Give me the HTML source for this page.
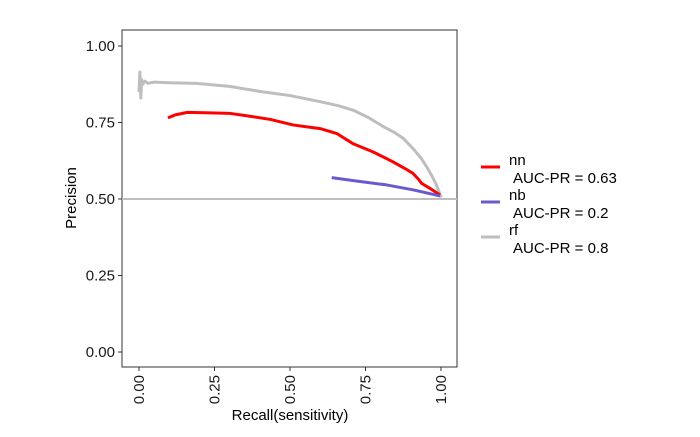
<!DOCTYPE html>
<html><head><meta charset="utf-8"><style>
body{margin:0;background:#fff;}
svg text{font-family:"Liberation Sans",Arial,sans-serif;}
</style></head><body>
<svg id="chart" width="700" height="432" xmlns="http://www.w3.org/2000/svg">
<rect x="0" y="0" width="700" height="432" fill="#fff"/>
<rect x="122" y="30" width="335" height="337" fill="none" stroke="#333" stroke-width="1"/>
<g id="axes"></g>
<g id="series"></g>
<g id="legend"></g>
</svg>
<script>
const xTicks=[0,0.25,0.5,0.75,1];
const xTickLabels=["0.00","0.25","0.50","0.75","1.00"];
const yTicks=[0,0.25,0.5,0.75,1];
const yTickLabels=["0.00","0.25","0.50","0.75","1.00"];
const seriesNames=["nn","nb","rf"];
const seriesLabels=["AUC-PR = 0.63","AUC-PR = 0.2","AUC-PR = 0.8"];
const seriesColors=["#ff0000","#6a5acd","#bebebe"];
const baseline=0.5;
const nnRecall=[0.096,0.12,0.16,0.22,0.30,0.37,0.435,0.51,0.60,0.655,0.71,0.775,0.84,0.88,0.907,0.925,0.936,0.963,0.997];
const nnPrecision=[0.765,0.775,0.783,0.782,0.78,0.77,0.76,0.742,0.73,0.714,0.68,0.654,0.622,0.600,0.584,0.565,0.551,0.535,0.513];
const nbRecall=[0.638,0.71,0.82,0.907,0.997];
const nbPrecision=[0.57,0.56,0.546,0.53,0.51];
const rfRecall=[0.0,0.003,0.006,0.009,0.012,0.02,0.03,0.05,0.1,0.19,0.3,0.41,0.5,0.6,0.66,0.71,0.76,0.81,0.845,0.875,0.91,0.935,0.952,0.97,0.983,0.993,1.0];
const rfPrecision=[0.85,0.915,0.83,0.89,0.875,0.885,0.878,0.882,0.88,0.878,0.868,0.85,0.838,0.818,0.805,0.79,0.766,0.736,0.718,0.698,0.662,0.632,0.606,0.575,0.55,0.525,0.505];
const NS="http://www.w3.org/2000/svg";
const xs=v=>139+v*302, ys=v=>352-v*306;
function mk(tag,attrs,parent){const e=document.createElementNS(NS,tag);for(const k in attrs)e.setAttribute(k,attrs[k]);parent.appendChild(e);return e;}
const axes=document.getElementById('axes'),ser=document.getElementById('series'),leg=document.getElementById('legend');
xTicks.forEach((t,i)=>{
 const l=mk('line',{x1:xs(t),x2:xs(t),y1:367,y2:371,stroke:'#333'},axes);
 
 
 const tx=mk('text',{x:0,y:0,'font-size':15,fill:'#1a1a1a','text-anchor':'end',transform:`translate(${xs(t)+5},375) rotate(-90)`},axes);
 tx.textContent=xTickLabels[i];
 
 
});
yTicks.forEach((t,i)=>{
 const l=mk('line',{x1:118,x2:122,y1:ys(t),y2:ys(t),stroke:'#333'},axes);
 
 
 const tx=mk('text',{x:115,y:ys(t)+5,'font-size':15,fill:'#1a1a1a','text-anchor':'end'},axes);
 tx.textContent=yTickLabels[i];
 
 
});
const xt=mk('text',{x:290,y:420,'font-size':15,'text-anchor':'middle',fill:'#000'},axes);
xt.textContent="Recall(sensitivity)";


const yt=mk('text',{x:0,y:0,'font-size':15,'text-anchor':'middle',fill:'#000',transform:'translate(76,198) rotate(-90)'},axes);
yt.textContent="Precision";


const bl=mk('line',{x1:122,x2:457,y1:ys(baseline),y2:ys(baseline),stroke:'#bebebe','stroke-width':2},ser);


const data=[[nnRecall,nnPrecision],[nbRecall,nbPrecision],[rfRecall,rfPrecision]];
[2,0,1].forEach(i=>{
 const [r,p]=data[i];
 const pts=r.map((v,j)=>xs(v)+','+ys(p[j])).join(' ');
 const pl=mk('polyline',{points:pts,fill:'none',stroke:seriesColors[i],'stroke-width':3,'stroke-linejoin':'round'},ser);
 
 
});
seriesNames.forEach((n,i)=>{
 const y0=167+i*35;
 const l=mk('line',{x1:481,x2:500,y1:y0,y2:y0,stroke:seriesColors[i],'stroke-width':3},leg);
 
 
 const t1=mk('text',{x:509,y:y0-2,'font-size':15,fill:'#000'},leg);
 t1.textContent=n;
 
 
 const t2=mk('text',{x:513,y:y0+16,'font-size':15,fill:'#000'},leg);
 t2.textContent=seriesLabels[i];
 
 
});
</script>
</body></html>
